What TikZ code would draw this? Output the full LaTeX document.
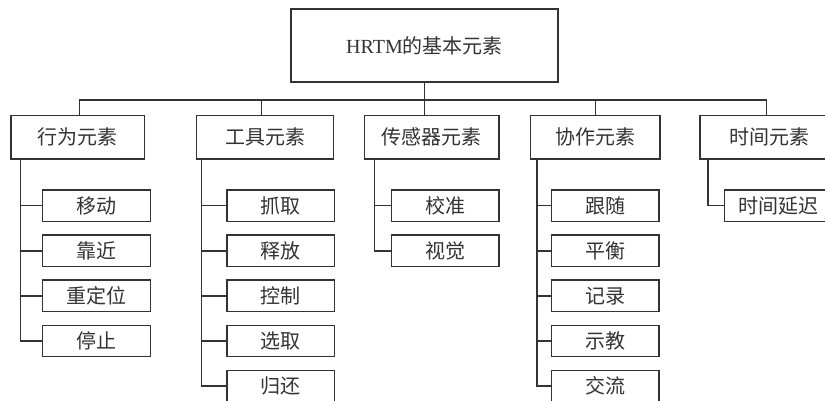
\documentclass[tikz,border=0pt]{standalone}
\usepackage{fontspec}
\setmainfont{Liberation Serif}
\newfontfamily\cjk{Noto Sans CJK SC}
\definecolor{ink}{HTML}{333333}
\begin{document}
\begin{tikzpicture}[x=1pt,y=-1pt,
  every node/.style={font=\fontsize{20}{24}\selectfont\cjk, text=ink},
  box/.style={draw=ink, line width=1.3pt, inner sep=0pt, fill=white},
  topbox/.style={box, minimum width=267pt, minimum height=73pt},
  catbox/.style={box, minimum height=43.3pt},
  leafbox/.style={box, minimum width=107.7pt, minimum height=31.6pt},
  link/.style={draw=ink, line width=1.3pt}]
\useasboundingbox (0,0) rectangle (825,400);
\clip (0,0) rectangle (825,400);
% top
\node[topbox] (T) at (424.5,45.5) {{\rmfamily HRTM}的基本元素};
% categories
\node[catbox, minimum width=133.3pt] (A) at (77.7,137.3) {行为元素};
\node[catbox, minimum width=136.7pt] (B) at (265,137.3) {工具元素};
\node[catbox, minimum width=134.3pt] (C) at (431.8,137.3) {传感器元素};
\node[catbox, minimum width=129.3pt] (D) at (595.3,137.3) {协作元素};
\node[catbox, minimum width=138pt] (E) at (769,137.3) {时间元素};
% bus
\coordinate (bus) at (424.4,100);
\coordinate (bA) at (79.7,100);
\coordinate (bB) at (261.7,100);
\coordinate (bD) at (595.7,100);
\coordinate (bE) at (766.3,100);
\draw[link] (T.south -| bus) -- (bus |- C.north);
\draw[link] (bA |- A.north) -- (bA) -- (bE) -- (bE |- E.north);
\draw[link] (bB) -- (bB |- B.north);
\draw[link] (bD) -- (bD |- D.north);
% leaves
\foreach \n/\t [count=\i from 0] in {a1/移动,a2/靠近,a3/重定位,a4/停止}
  \node[leafbox] (\n) at (96.5,205.8+45.05*\i) {\t};
\foreach \n/\t [count=\i from 0] in {b1/抓取,b2/释放,b3/控制,b4/选取,b5/归还}
  \node[leafbox] (\n) at (280.8,205.8+45.05*\i) {\t};
\foreach \n/\t [count=\i from 0] in {c1/校准,c2/视觉}
  \node[leafbox] (\n) at (445,205.8+45.05*\i) {\t};
\foreach \n/\t [count=\i from 0] in {d1/跟随,d2/平衡,d3/记录,d4/示教,d5/交流}
  \node[leafbox] (\n) at (605.2,205.8+45.05*\i) {\t};
\node[leafbox] (e1) at (778.4,205.8) {时间延迟};
% trunks
\coordinate (tA) at (20.7,0);
\coordinate (tB) at (201.7,0);
\coordinate (tC) at (374.7,0);
\coordinate (tD) at (537,0);
\coordinate (tE) at (708,0);
\draw[link] (tA |- A.south) |- (a4.west);
\foreach \n in {a1,a2,a3} \draw[link] (tA |- \n.west) -- (\n.west);
\draw[link] (tB |- B.south) |- (b5.west);
\foreach \n in {b1,b2,b3,b4} \draw[link] (tB |- \n.west) -- (\n.west);
\draw[link] (tC |- C.south) |- (c2.west);
\draw[link] (tC |- c1.west) -- (c1.west);
\draw[link] (tD |- D.south) |- (d5.west);
\foreach \n in {d1,d2,d3,d4} \draw[link] (tD |- \n.west) -- (\n.west);
\draw[link] (tE |- E.south) |- (e1.west);
\end{tikzpicture}
\end{document}
